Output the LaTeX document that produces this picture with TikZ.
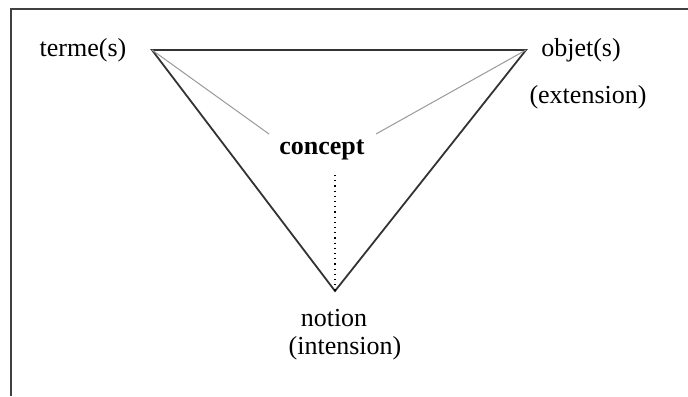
\documentclass[tikz,border=0pt]{standalone}
\usepackage{fontspec}
\setmainfont{Liberation Serif}
\usetikzlibrary{positioning}

\begin{document}
\begin{tikzpicture}[x=0.5pt, y=-0.5pt,
  word/.style={inner sep=0pt, font=\fontsize{13}{16}\selectfont},
  boldword/.style={inner sep=0pt, font=\fontsize{13}{16}\selectfont\bfseries},
  side/.style={draw=black!80, line width=0.9pt},
  link/.style={draw=black!40, line width=0.5pt},
  frame/.style={draw=black!75, line width=1pt}
]
\useasboundingbox (0,0) rectangle (688,396);
\draw[frame] (11,396) -- (11,9) -- (688,9);
% triangle corners
\coordinate (t) at (152,50);
\coordinate (o) at (526,50);
\coordinate (n) at (335,291);
\coordinate (ct) at (269,134);
\coordinate (co) at (376,134);
\coordinate (cn) at (335,175);
\draw[side] (t) -- (o) -- (n) -- cycle;
\draw[link] (t) -- (ct);
\draw[link] (o) -- (co);
\draw[dotted, line width=0.6pt] (cn) -- (n);
% labels
\node[word] (terme) at (83,50) {terme(s)};
\node[word] (objet) at (581,50) {objet(s)};
\node[word] (ext) at (588,97) {(extension)};
\node[boldword] (concept) at (322,150) {concept};
\node[word] (notion) at (334,318) {notion};
\node[word] (int) at (345,348) {(intension)};
\end{tikzpicture}
\end{document}
